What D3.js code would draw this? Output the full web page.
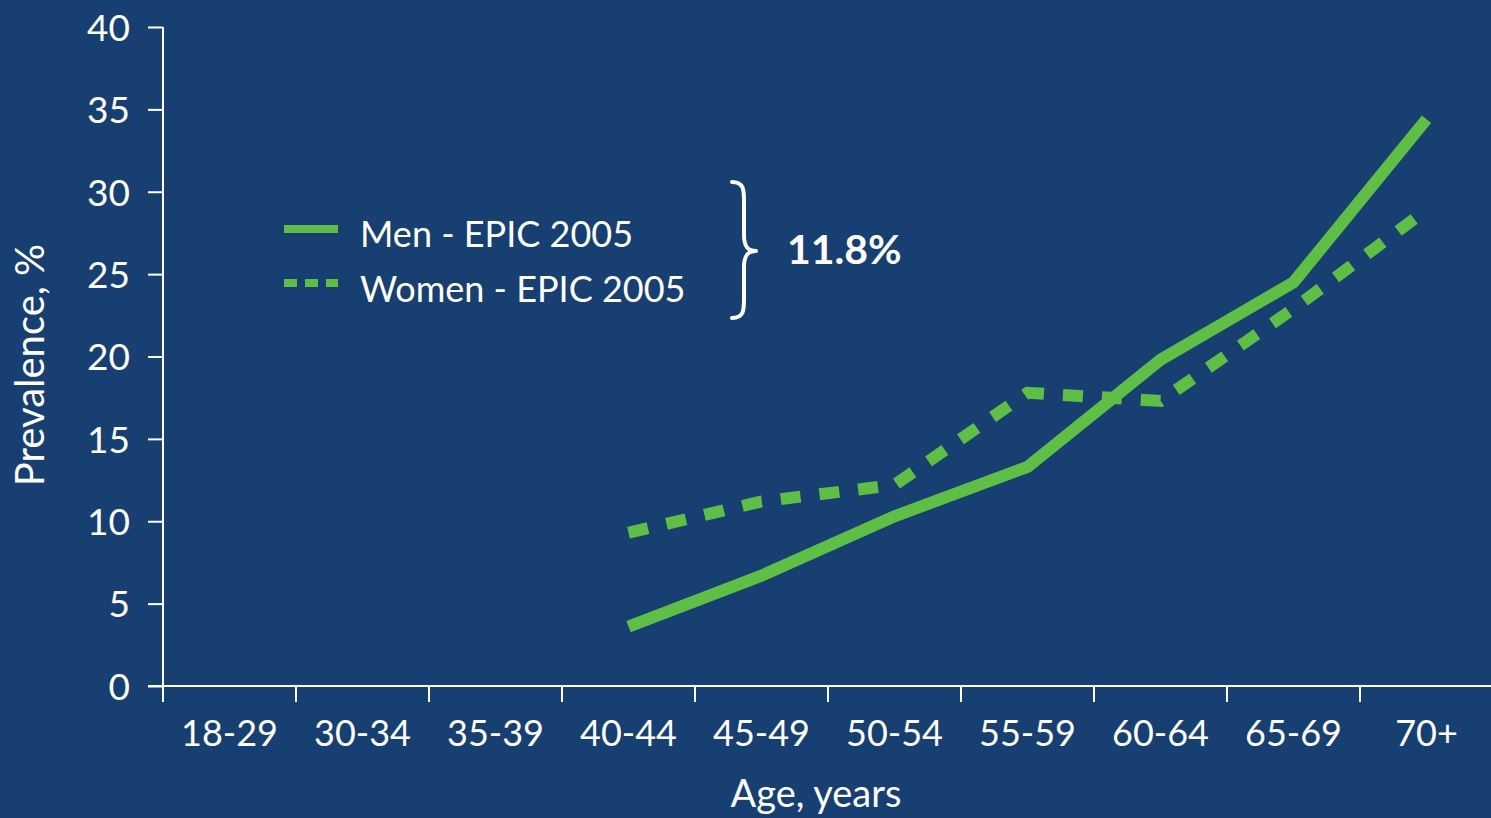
<!DOCTYPE html>
<html>
<head>
<meta charset="utf-8">
<script src="https://cdn.jsdelivr.net/npm/d3@7"></script>
<style>
  html, body { margin: 0; padding: 0; background: #173F72; overflow: hidden; }
  svg { display: block; }
  text { font-family: "Lato", "Open Sans", sans-serif; fill: #ffffff; }
</style>
</head>
<body>
<svg id="chart" width="1491" height="818"></svg>
<script>
const categories = ["18-29", "30-34", "35-39", "40-44", "45-49", "50-54", "55-59", "60-64", "65-69", "70+"];
const menValues = [null, null, null, 3.6, 6.7, 10.3, 13.3, 19.8, 24.5, 34.4];
const womenValues = [null, null, null, 9.3, 11.2, 12.2, 17.8, 17.3, 22.9, 28.9];
const yTickValues = [0, 5, 10, 15, 20, 25, 30, 35, 40];
const seriesNames = ["Men - EPIC 2005", "Women - EPIC 2005"];
const bracketLabel = "11.8%";
const xTitle = "Age, years";
const yTitle = "Prevalence, %";

const W = 1491, H = 818;
const bg = "#173F72", green = "#5FBE45", white = "#ffffff";
const svg = d3.select("#chart");
svg.append("rect").attr("width", W).attr("height", H).attr("fill", bg);

const x = d3.scaleBand().domain(categories).range([163, 1493]).padding(0);
const y = d3.scaleLinear().domain([0, 40]).range([686, 27]);

// Y axis
const yAxis = svg.append("g").attr("transform", "translate(163,0)")
  .call(d3.axisLeft(y).tickValues(yTickValues).tickSize(15).tickSizeOuter(0).tickPadding(18));
yAxis.select(".domain").remove();
yAxis.selectAll(".tick line").attr("stroke", white).attr("stroke-width", 2);
yAxis.selectAll(".tick text").attr("font-size", 37).attr("fill", white).attr("dy", "0.36em");
svg.append("line").attr("x1", 163).attr("x2", 163).attr("y1", y(40)).attr("y2", 702)
  .attr("stroke", white).attr("stroke-width", 2);

// X axis
svg.append("line").attr("x1", 148).attr("x2", W).attr("y1", y(0)).attr("y2", y(0))
  .attr("stroke", white).attr("stroke-width", 2);
svg.append("g").selectAll("line").data(categories).join("line")
  .attr("x1", d => x(d)).attr("x2", d => x(d))
  .attr("y1", y(0)).attr("y2", y(0) + 16)
  .attr("stroke", white).attr("stroke-width", 2);
const xAxis = svg.append("g").attr("transform", `translate(0,${y(0)})`)
  .call(d3.axisBottom(x).tickSize(0).tickPadding(34));
xAxis.select(".domain").remove();
xAxis.selectAll(".tick text").attr("font-size", 36).attr("fill", white);

// Axis titles
svg.append("text").attr("x", 816).attr("y", 807).attr("text-anchor", "middle")
  .attr("font-size", 38).text(xTitle);
svg.append("text").attr("transform", "translate(44,365) rotate(-90)").attr("text-anchor", "middle")
  .attr("font-size", 40).text(yTitle);

// Lines
const line = d3.line()
  .defined(d => d.v !== null)
  .x(d => x(d.c) + x.bandwidth() / 2)
  .y(d => y(d.v));
const menData = categories.map((c, i) => ({ c, v: menValues[i] }));
const womenData = categories.map((c, i) => ({ c, v: womenValues[i] }));

svg.append("path").datum(womenData).attr("d", line)
  .attr("fill", "none").attr("stroke", green).attr("stroke-width", 12)
  .attr("stroke-dasharray", "20,19").attr("stroke-linecap", "butt");
svg.append("path").datum(menData).attr("d", line)
  .attr("fill", "none").attr("stroke", green).attr("stroke-width", 12)
  .attr("stroke-linejoin", "miter").attr("stroke-linecap", "butt");

// Legend
const legend = svg.append("g");
const legendRows = [
  { name: seriesNames[0], y: 229, dash: null, ty: 247 },
  { name: seriesNames[1], y: 283, dash: "13,8", ty: 302 }
];
legendRows.forEach(r => {
  legend.append("line").attr("x1", 284).attr("x2", 338).attr("y1", r.y).attr("y2", r.y)
    .attr("stroke", green).attr("stroke-width", 8)
    .attr("stroke-dasharray", r.dash);
  legend.append("text").attr("x", 360).attr("y", r.ty).attr("font-size", 36).text(r.name);
});

// Brace
const bx = 732, bTop = 182, bBot = 318, bMid = 251, bTip = 756;
const brace = `M${bx},${bTop} C${bx+12},${bTop} ${bx+12},${bTop+8} ${bx+12},${bTop+20}
  L${bx+12},${bMid-16} C${bx+12},${bMid-4} ${bx+16},${bMid} ${bTip},${bMid}
  C${bx+16},${bMid} ${bx+12},${bMid+4} ${bx+12},${bMid+16}
  L${bx+12},${bBot-20} C${bx+12},${bBot-8} ${bx+12},${bBot} ${bx},${bBot}`;
svg.append("path").attr("d", brace).attr("fill", "none").attr("stroke", white)
  .attr("stroke-width", 4).attr("stroke-linecap", "round").attr("stroke-linejoin", "round");
svg.append("text").attr("x", 787).attr("y", 264).attr("font-size", 41)
  .attr("font-weight", "bold").text(bracketLabel);
</script>
</body>
</html>
